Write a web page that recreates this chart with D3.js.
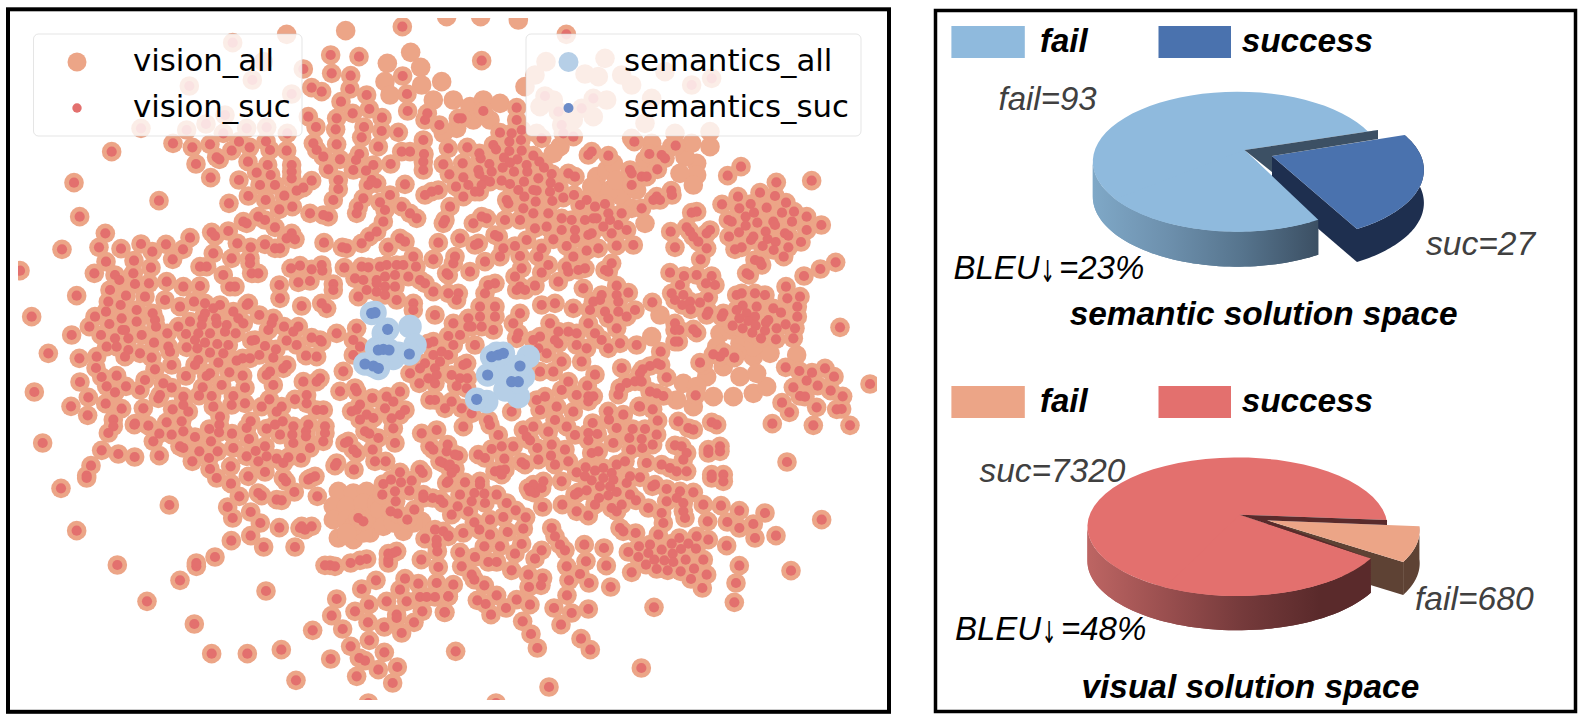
<!DOCTYPE html>
<html><head><meta charset="utf-8">
<script src="https://cdn.jsdelivr.net/npm/d3@7/dist/d3.min.js"></script>
<style>html,body{margin:0;padding:0;background:#fff}svg{display:block}</style></head><body>
<svg id="c" width="1579" height="726"></svg>
<script>
// t-SNE points, one list per quadrant of the plot (units: quadrant grid)
const visionSucNW=[[1207,80],[992,165],[1077,170],[995,220],[1052,227],[1208,228],[1050,267],[1221,282],[1100,285],[935,263],[965,275],[1023,305],[1108,327],[1223,333],[1058,340],[1146,353],[1010,355],[925,350],[948,381],[1007,388],[1092,381],[1145,393],[1195,397],[1270,345],[1280,360],[1317,377],[1085,412],[1268,420],[1010,433],[1135,440],[1205,455],[1230,455],[1272,460],[940,430],[950,450],[970,470],[1020,478],[1078,462],[1068,480],[1172,492],[1120,495],[1098,512],[1060,510],[985,508],[1270,490],[1272,510],[1330,495],[1340,440],[1345,525],[1015,540],[1015,567],[1115,540],[1105,555],[1130,550],[1215,553],[1000,600],[1295,575],[1265,593],[1170,585],[1140,607],[1090,595],[1075,620],[1070,640],[1155,630],[1205,620],[1305,625],[1230,640],[1250,655],[985,650],[970,645],[930,640],[1150,665],[1330,670],[1130,695],[1108,710],[1085,730],[1200,715],[1215,725],[1165,742],[1315,728],[972,728],[1027,742],[1040,745],[698,128],[757,240],[568,258],[875,282],[910,207],[423,385],[618,372],[560,390],[670,400],[740,385],[800,382],[862,400],[675,345],[519,430],[577,442],[630,433],[717,425],[749,442],[798,424],[810,450],[860,452],[695,452],[650,472],[658,478],[744,485],[588,492],[803,495],[875,495],[875,515],[875,535],[770,518],[812,525],[632,533],[717,540],[935,542],[780,555],[825,555],[910,563],[890,572],[745,588],[797,600],[853,587],[687,610],[838,628],[877,620],[335,455],[222,548],[477,602],[239,650],[730,665],[740,670],[775,650],[795,660],[825,682],[635,697],[645,708],[685,693],[875,700],[860,715],[885,718],[712,730],[752,742],[795,733],[825,745],[840,745],[640,760],[695,775],[750,775],[750,790],[600,800],[620,800],[755,820],[775,820],[670,825],[316,700],[297,742],[363,746],[423,732],[457,755],[498,733],[549,748],[570,713],[186,748],[318,785],[402,782],[518,778],[453,803],[283,820],[345,825],[358,840],[400,820],[405,852],[447,850],[500,845],[550,860],[600,858],[690,860],[705,860],[680,870],[715,870],[330,870],[378,887],[434,890],[230,887],[495,897],[325,905],[362,915],[410,930],[410,940],[540,920],[580,905],[618,912],[660,913],[750,905],[95,950],[285,950],[318,935],[365,955],[410,965],[455,940],[465,960],[540,955],[575,965],[610,930],[605,960],[650,965],[695,930],[710,950],[725,970],[775,945],[820,950],[830,960],[870,955],[268,980],[328,972],[367,990],[375,990],[465,985],[215,1005],[303,1005],[345,1015],[385,1015],[470,1010],[533,995],[570,1005],[625,995],[640,1000],[670,975],[705,1000],[800,990],[755,1020],[770,1020],[890,985],[905,1000],[935,1012],[965,1025],[145,1060],[238,1075],[320,1040],[350,1040],[385,1050],[430,1040],[505,1040],[510,1060],[555,1030],[590,1045],[630,1030],[660,1060],[700,1040],[800,1050],[840,1040],[880,1040],[920,1070],[290,1070],[375,1070],[455,1075],[545,1075],[615,1075],[680,1085],[755,1075],[960,1075],[873,805],[900,797],[935,808],[965,795],[967,812],[838,855],[845,870],[895,847],[930,843],[1000,852],[1000,870],[838,897],[905,918],[970,900],[975,915],[990,930],[965,925],[1033,803],[1085,800],[1105,802],[1140,800],[1160,795],[1190,795],[1210,795],[1248,800],[1240,770],[1300,778],[1340,820],[1065,835],[1090,840],[1130,840],[1155,830],[1185,825],[1225,830],[1260,840],[1275,850],[1100,870],[1130,875],[1155,860],[1185,860],[1130,850],[1075,890],[1155,885],[1190,900],[1240,910],[1300,875],[1345,880],[1010,1000],[1060,1020],[1070,985],[1240,930],[1305,945],[1305,965],[1260,990],[1300,1025],[1335,1040],[1340,970],[1080,1040],[1345,1060],[1290,1060],[1330,1080],[1060,1065],[60,812]];
const visionSucNE=[[364,103],[110,182],[740,255],[800,235],[300,288],[443,270],[445,298],[350,375],[340,335],[400,320],[300,400],[385,405],[40,355],[50,355],[115,333],[215,322],[215,362],[165,398],[200,400],[230,390],[190,425],[228,420],[145,440],[230,453],[200,470],[265,468],[280,490],[175,490],[220,490],[245,495],[245,515],[100,460],[15,445],[65,440],[105,475],[135,490],[50,490],[10,520],[100,515],[135,525],[300,515],[320,520],[370,525],[390,525],[180,548],[205,520],[235,545],[280,535],[315,548],[340,560],[55,530],[70,555],[30,560],[100,570],[120,570],[220,570],[270,570],[315,575],[385,585],[60,590],[415,600],[345,595],[180,605],[190,610],[240,625],[285,605],[320,605],[355,625],[385,625],[425,625],[450,620],[480,612],[510,622],[530,640],[490,640],[445,655],[20,630],[0,660],[85,670],[110,650],[125,655],[180,660],[265,640],[310,640],[350,655],[380,660],[420,660],[455,655],[495,660],[520,675],[545,690],[475,680],[225,660],[270,685],[305,680],[350,690],[390,690],[430,705],[440,700],[500,700],[45,715],[150,705],[160,710],[245,720],[325,718],[390,715],[460,745],[515,737],[565,735],[100,730],[90,735],[210,738],[175,745],[290,745],[365,738],[425,752],[385,770],[280,770],[165,770],[225,768],[30,770],[25,790],[120,785],[310,795],[365,800],[370,815],[420,805],[400,810],[230,805],[75,815],[290,818],[480,810],[500,790],[490,815],[10,825],[210,830],[150,850],[130,855],[340,845],[40,880],[35,900],[120,880],[225,860],[215,870],[240,870],[270,857],[415,865],[515,857],[550,878],[445,905],[465,900],[515,885],[470,885],[520,905],[290,915],[330,910],[385,925],[620,905],[435,930],[480,935],[520,935],[570,930],[105,920],[150,920],[105,950],[150,950],[225,940],[25,970],[70,955],[145,985],[210,975],[325,968],[380,965],[430,970],[490,955],[545,950],[15,985],[40,1000],[220,1000],[285,1010],[345,1000],[395,995],[450,1000],[515,985],[490,1045],[95,1035],[370,1050],[425,1045],[330,1040],[285,1050],[525,1030],[470,1020],[345,1070],[410,1085],[60,1085],[10,1070],[568,425],[613,462],[650,465],[660,475],[555,510],[560,520],[590,530],[605,530],[560,555],[637,508],[635,590],[625,600],[680,580],[680,565],[590,625],[435,458],[490,465],[380,525],[692,437],[850,527],[888,500],[994,547],[1100,542],[745,640],[730,640],[880,590],[945,580],[990,588],[830,612],[915,612],[883,627],[965,625],[1023,612],[1047,635],[1085,650],[1130,675],[1010,637],[850,660],[860,670],[900,650],[935,640],[985,668],[1040,665],[1085,690],[730,685],[750,705],[760,730],[795,690],[785,745],[678,695],[650,722],[690,745],[695,750],[855,710],[920,710],[960,695],[1020,700],[970,715],[1070,725],[990,725],[985,750],[1030,745],[950,740],[880,745],[865,755],[770,775],[760,780],[940,780],[950,790],[1015,770],[1172,787],[1127,807],[1078,827],[905,820],[915,825],[1020,860],[665,860],[690,850],[670,820],[715,825],[755,825],[800,827],[685,880],[710,860],[720,880],[775,850],[785,870],[825,860],[820,870],[870,885],[890,880],[930,875],[965,880],[1065,888],[1025,893],[685,905],[710,915],[735,925],[765,905],[875,930],[900,940],[935,925],[1060,922],[1005,937],[790,935],[830,945],[880,955],[910,965],[970,960],[1060,950],[1022,973],[1050,985],[1180,982],[690,975],[690,990],[745,990],[935,985],[895,985],[960,1000],[1045,1015],[995,1020],[700,1025],[645,1050],[575,1035],[800,1065],[820,1070],[1135,1090]];
const visionSucSW=[[103,87],[213,130],[263,157],[240,57],[265,103],[317,122],[288,15],[305,42],[350,38],[320,70],[345,88],[378,70],[392,45],[435,50],[395,100],[365,137],[340,170],[340,190],[325,210],[430,138],[465,150],[403,185],[445,188],[478,212],[500,178],[517,140],[545,175],[567,148],[550,205],[515,215],[460,235],[128,240],[305,262],[355,273],[404,282],[478,278],[273,308],[260,338],[260,345],[183,376],[540,250],[550,255],[585,222],[598,265],[633,235],[577,295],[627,285],[653,265],[630,318],[650,345],[692,310],[745,340],[693,362],[718,400],[683,432],[698,465],[752,447],[781,480],[752,518],[791,552],[694,533],[645,582],[589,610],[589,600],[540,652],[441,715],[583,783],[635,872],[742,872],[844,860],[352,606],[230,503],[508,426],[798,684],[888,952],[405,182],[475,95],[480,105],[488,60],[522,33],[558,42],[578,62],[605,73],[597,97],[635,100],[670,65],[640,130],[622,165],[655,165],[628,198],[658,185],[657,208],[696,168],[696,212],[700,255],[747,228],[752,175],[740,195],[550,100],[552,110],[687,30],[728,40],[735,75],[700,100],[718,122],[760,95],[760,148],[785,130],[790,158],[808,108],[800,197],[795,250],[767,264],[740,280],[775,295],[800,280],[795,327],[830,287],[850,300],[865,283],[903,285],[930,255],[840,215],[880,240],[877,215],[880,190],[877,165],[848,175],[825,185],[815,165],[840,135],[860,140],[880,165],[920,170],[925,185],[918,205],[918,220],[975,190],[975,210],[970,235],[610,40],[625,35],[655,0],[585,15],[800,35],[830,25],[815,65],[825,70],[850,10],[910,55],[885,110],[915,95],[925,95],[960,50],[945,130],[970,140],[990,140],[980,97],[1020,85],[1030,25],[1065,75],[1070,85],[1055,145],[1070,140],[1080,125],[1117,105],[1158,105],[1180,120],[1170,135],[1140,130],[1100,155],[1120,165],[1145,155],[1080,170],[1175,165],[1195,85],[1200,90],[1215,150],[1205,140],[1180,195],[1190,195],[1095,205],[1108,212],[1135,225],[1045,235],[1035,240],[1060,260],[1070,270],[1118,260],[1185,240],[1265,210],[1278,210],[1312,198],[1340,215],[1290,250],[1300,260],[1330,300],[1320,295],[1340,265],[1125,295],[1157,295],[1010,300],[1005,308],[1062,320],[850,345],[858,355],[933,345],[925,350],[945,340],[883,387],[952,400],[785,398],[775,390],[830,410],[845,412],[1345,310],[1340,360],[1200,328],[1173,350],[1150,363],[1203,358],[1235,353],[1185,385],[1228,383],[1147,395],[1187,415],[1270,395],[1270,405],[1260,320],[1268,330],[1172,445],[1193,452],[1243,440],[1222,470],[1298,405],[1320,410],[1330,420],[1275,527],[1305,500],[1330,505],[1345,520],[1310,530],[1310,545],[1312,565],[1264,590],[1315,612],[1075,465],[1090,475],[838,494],[885,552],[905,490],[915,500],[900,495],[935,490],[990,607],[975,607],[1005,610],[1052,600],[1080,592],[1100,588],[1165,572],[1180,570],[1165,590],[1190,565],[1165,600],[1128,652],[1085,678],[1215,647],[1255,662],[1200,680],[1310,660],[1260,702],[1280,702],[1305,702],[1345,700],[1220,715],[1160,715],[1107,725],[1010,708],[995,758],[1065,745],[1104,778],[1028,798],[938,802],[1190,755],[1190,765],[1267,745],[1333,748],[1242,778],[1153,792],[1205,810],[1108,832],[1052,850],[1078,885],[1095,893],[1153,868],[992,888],[1135,920],[1192,912],[1070,940],[1178,960],[1105,1020]];
const visionSucSE=[[32,865],[153,1020],[312,972],[589,915],[627,733],[868,718],[873,660],[883,608],[1038,623],[1130,470],[993,518],[1026,297],[1215,187],[1105,187],[1190,138],[1115,133],[1035,150],[1012,122],[982,182],[900,170],[1275,63],[1193,100],[1157,83],[1118,70],[1045,75],[1085,25],[1102,30],[1137,15],[1165,40],[1063,25],[1022,15],[1072,100],[1085,100],[752,97],[665,43],[655,97],[610,85],[630,90],[590,20],[530,15],[525,75],[520,95],[545,60],[570,55],[590,55],[450,35],[427,68],[400,58],[370,55],[430,100],[430,115],[445,100],[325,27],[285,25],[300,105],[272,110],[335,130],[382,145],[290,140],[280,140],[200,150],[375,190],[365,185],[330,170],[273,193],[135,180],[55,185],[45,60],[35,72],[65,75],[25,40],[50,45],[80,155],[50,135],[25,115],[0,135],[490,145],[535,155],[582,130],[625,140],[585,168],[638,173],[443,180],[430,210],[457,213],[492,170],[515,195],[563,198],[600,198],[635,215],[553,225],[590,228],[623,245],[505,240],[430,232],[558,260],[440,270],[460,265],[592,255],[700,175],[730,195],[745,200],[800,178],[815,185],[835,165],[690,247],[710,250],[825,250],[825,265],[790,260],[790,270],[725,270],[715,290],[605,300],[650,305],[675,315],[695,325],[725,325],[800,345],[835,335],[800,335],[835,355],[745,388],[705,385],[695,405],[665,378],[622,370],[630,365],[585,343],[545,360],[555,340],[540,295],[515,305],[500,330],[475,315],[450,323],[422,313],[395,328],[420,340],[440,352],[475,345],[505,350],[465,370],[495,370],[515,387],[490,397],[425,382],[400,388],[390,395],[462,405],[450,425],[555,395],[573,412],[530,425],[500,435],[515,445],[610,435],[665,415],[650,450],[715,420],[715,445],[720,465],[775,425],[828,428],[883,443],[960,450],[925,483],[847,477],[883,495],[930,525],[788,475],[845,548],[655,480],[640,515],[525,495],[535,505],[572,510],[790,530],[755,520],[703,525],[730,542],[680,542],[615,545],[582,550],[550,567],[610,570],[580,582],[650,560],[683,572],[708,558],[753,557],[628,590],[658,592],[685,597],[722,590],[775,590],[603,605],[635,618],[668,622],[707,625],[747,617],[785,635],[738,648],[772,675],[560,628],[352,425],[395,445],[430,458],[293,432],[350,355],[320,495],[330,520],[345,545],[360,562],[290,562],[270,587],[418,545],[477,555],[423,595],[484,608],[365,610],[405,633],[372,652],[432,660],[497,672],[366,697],[250,635],[293,645],[288,667],[252,672],[200,622],[45,568],[90,582],[130,597],[155,597],[50,610],[80,635],[88,650],[118,667],[25,665],[155,697],[97,712],[122,723],[215,710],[183,735],[138,755],[255,725],[327,735],[380,750],[430,738],[233,775],[348,785],[258,813],[277,855],[408,827],[436,860],[10,700],[0,748],[275,375],[250,375],[265,365],[290,375],[270,390],[295,355],[255,385],[165,322],[180,320],[150,325],[170,335],[178,287],[230,298],[240,305],[280,290],[318,278],[330,305],[370,295],[360,260],[320,245],[350,225],[277,255],[255,232],[235,205],[290,225],[320,210],[185,220],[205,250],[170,250],[140,258],[120,285],[100,275],[90,225],[40,278],[15,305],[30,318],[20,330],[10,355],[60,358],[105,355],[105,365],[45,395],[88,390],[118,392],[155,395],[80,415],[120,420],[185,420],[38,430],[70,445],[20,455],[135,470],[175,462],[212,442],[242,463],[88,478],[103,500],[135,515],[235,497],[188,507],[55,510],[10,518],[118,550],[165,550],[230,543],[210,572],[10,215],[8,245],[30,275],[50,130],[60,185],[150,170]];
const visionFailNW=[[860,103],[790,185],[1037,92],[1232,157],[1162,190],[1262,202],[1155,245],[1170,285],[1265,255],[1300,280],[1325,245],[1345,300],[1330,340],[1340,395],[1290,320],[1300,375]];
const visionFailNE=[[220,60],[107,50],[5,50],[30,300],[90,385],[120,295],[165,305],[35,395],[70,300],[10,390],[240,260],[270,225],[303,185],[420,222],[480,175],[530,225],[560,255],[510,280],[460,230],[620,295],[660,215],[350,450],[600,370],[690,400],[795,395],[795,440],[755,490],[755,550],[720,470],[700,520],[560,415],[520,440],[470,500],[440,545],[500,560],[530,590],[575,570],[600,670],[560,625],[620,430],[680,440],[740,430],[600,480],[650,525],[620,1010],[650,950],[640,1070],[820,1020],[860,1040],[900,1060],[950,1070],[1050,1060],[780,1070]];
const visionFailSW=[[1015,385],[1060,390],[1100,385],[1000,430],[1040,430],[1090,420],[1130,420],[1000,470],[1040,470],[1110,470],[1140,440],[1015,525],[1060,530],[1110,510],[1150,490],[1210,505],[1265,475],[1240,480],[1180,480],[1090,510],[1060,490],[1040,510]];
const visionFailSE=[[680,60],[720,60],[770,60],[700,100],[740,125],[830,30],[870,25],[900,40],[950,45],[950,100],[900,100],[850,100],[880,130],[940,150],[800,110],[830,70],[930,70],[970,60],[1000,80],[800,20],[860,60],[980,40]];
// closer readings of five dense crops; each replaces what the quadrant lists hold in its window
const cropA=[[145,70],[160,65],[205,48],[240,45],[220,75],[285,75],[275,20],[305,20],[340,30],[220,10],[265,20],[160,105],[185,95],[205,105],[135,130],[120,145],[180,125],[90,160],[118,190],[165,145],[170,165],[145,175],[165,190],[250,135],[260,130],[215,165],[240,175],[262,175],[230,198],[260,205],[60,215],[20,230],[40,245],[15,265],[75,270],[60,285],[35,295],[40,325],[150,240],[165,240],[215,245],[245,265],[195,265],[275,280],[250,320],[330,315],[325,300],[170,330],[125,340],[395,275],[470,240],[495,230],[480,270],[530,260],[580,275],[525,300],[480,155],[520,155],[565,185],[545,210],[590,225],[510,10],[480,50],[460,60],[400,10],[415,40],[410,55],[475,85],[535,35],[565,35],[590,40],[535,70],[590,75],[545,125],[500,100],[525,60],[430,330],[460,320],[505,335],[440,350],[560,320],[585,345],[355,345]];
const cropB=[[190,63],[115,85],[125,85],[58,105],[22,70],[15,90],[290,53],[290,90],[240,128],[275,130],[305,120],[10,150],[85,175],[142,172],[268,155],[303,150],[220,165],[228,178],[268,183],[305,182],[12,192],[178,190],[182,205],[252,203],[292,208],[270,218],[340,197],[358,215],[372,233],[10,215],[10,240],[70,223],[128,220],[208,222],[248,233],[320,225],[322,245],[282,245],[88,253],[175,240],[178,252],[215,245],[395,252],[130,262],[245,272],[270,282],[355,265],[312,275],[392,278],[195,270],[185,285],[210,275],[108,290],[145,285],[35,305],[15,315],[178,305],[165,305],[295,300],[340,300],[350,302],[417,292],[390,305],[130,320],[462,315],[313,320],[260,330],[265,340],[347,335],[430,323],[397,333],[500,330],[480,345],[555,342],[525,350],[55,300],[90,350],[310,355],[445,250],[465,260],[515,185],[505,195],[565,197],[365,145],[430,130],[460,140],[375,18],[415,65],[485,55],[425,105],[520,25]];
const cropBFail=[[100,30],[40,30],[150,50],[190,30],[240,40],[110,115],[160,90],[210,90],[420,170],[400,190],[530,260],[560,240],[540,300],[580,220],[570,300],[590,270],[515,290],[70,130],[360,50],[400,30],[460,90],[520,80],[560,30],[350,130],[440,130]];
const cropC=[[203,17],[349,37],[455,32],[34,62],[36,75],[0,90],[234,80],[300,68],[345,78],[186,103],[378,98],[95,128],[110,125],[238,115],[272,102],[320,113],[402,125],[366,128],[282,128],[440,140],[257,140],[205,150],[215,155],[340,155],[345,165],[292,158],[396,155],[484,165],[32,185],[80,172],[90,185],[100,200],[115,215],[150,180],[140,190],[257,167],[237,187],[317,185],[207,200],[280,200],[273,210],[323,207],[375,190],[385,197],[440,180],[347,216],[423,216],[45,232],[140,235],[225,238],[245,232],[308,228],[341,240],[385,232],[122,268],[285,270],[300,275],[371,260],[305,285],[260,310],[268,315],[30,308],[432,318],[481,297],[110,315],[155,318],[72,318],[378,350],[138,340],[165,345],[60,345]];
const cropCFail=[[110,15],[60,10],[100,45]];
const cropD=[[37,37],[95,10],[130,15],[105,30],[127,45],[150,35],[180,38],[152,58],[205,22],[290,15],[305,10],[345,10],[375,15],[442,25],[480,20],[205,65],[200,75],[250,70],[245,80],[308,47],[290,60],[320,70],[350,50],[400,55],[472,50],[423,68],[472,80],[345,80],[298,85],[325,93],[385,90],[378,98],[105,100],[105,120],[118,120],[160,118],[170,128],[278,107],[347,107],[308,115],[437,103],[465,115],[410,115],[375,122],[337,128],[363,145],[408,148],[460,145],[115,155],[105,155],[62,185],[220,193],[240,200],[252,188],[283,203],[180,218],[52,220],[62,225],[30,228],[8,238],[0,250],[437,232],[478,243],[516,248],[555,235],[582,260],[500,272],[80,262],[5,275],[460,292],[533,287],[572,302],[30,305],[50,310],[70,318],[480,318],[495,320],[167,316],[426,338],[530,352],[448,367],[38,358],[0,350],[600,112],[590,358]];
const cropDFail=[[60,75],[35,140],[240,130],[300,160],[250,230],[340,200],[390,190],[470,195],[130,280],[110,330],[160,350],[220,320],[280,320],[340,310],[380,290],[300,260],[350,250],[200,260],[270,120],[230,170],[340,170],[170,290],[290,190],[190,225]];
const cropE=[[45,20],[105,30],[20,60],[150,50],[192,35],[225,40],[270,45],[250,55],[355,40],[350,45],[515,48],[450,25],[575,40],[590,55],[68,70],[75,90],[78,110],[20,95],[145,110],[180,95],[225,70],[218,85],[215,105],[258,85],[260,100],[310,65],[325,85],[340,100],[388,75],[430,85],[425,100],[290,105],[415,120],[462,110],[505,110],[490,125],[35,135],[112,130],[168,132],[205,130],[240,130],[285,125],[317,130],[72,158],[195,150],[225,158],[262,162],[295,165],[375,150],[365,152],[405,168],[470,152],[500,165],[545,143],[575,155],[570,150],[115,170],[120,185],[170,172],[202,175],[438,178],[240,188],[280,190],[30,190],[65,203],[528,197],[560,200],[338,205],[320,212],[360,205],[388,195],[430,203],[205,210],[195,225],[265,218],[125,225],[470,225],[460,235],[75,238],[298,247],[420,245],[410,255],[240,250],[230,258],[168,258],[338,257],[45,270],[100,280],[430,285],[520,275],[570,265],[560,275],[275,285],[218,292],[125,293],[345,293],[30,300],[530,315],[90,315],[85,325],[160,320],[207,317],[245,318],[310,318],[418,328],[495,328],[345,340],[160,345],[128,358],[40,355],[250,350],[395,350],[305,345],[530,340],[270,380],[455,350],[560,360],[440,365],[175,365],[580,360]];
const semanticsSuc=[[95,70],[105,68],[143,118],[115,180],[130,178],[147,180],[208,192],[75,222],[100,228],[115,235],[455,200],[475,195],[490,190],[540,228],[443,255],[515,275],[535,275],[410,328]];
const semanticsFail=[[210,110],[130,130],[225,165],[175,190],[110,175],[160,205],[565,200],[550,260],[535,320],[495,300],[480,250],[500,240],[440,335],[470,190]];
const scatterLegendLeft=["vision_all","vision_suc"];
const scatterLegendRight=["semantics_all","semantics_suc"];
const pieSemantic=[{name:"success",value:27},{name:"fail",value:93}];
const pieVisual=[{name:"fail",value:680},{name:"success",value:7320}];

const C={vAll:"#eca587",vSuc:"#e3706e",sAll:"#b6cfe7",sSuc:"#6c8cc8"};
const svg=d3.select("#c");
const defs=svg.append("defs");
defs.append("clipPath").attr("id","plot").append("rect").attr("x",18).attr("y",18).attr("width",859).attr("height",682);
const sx=r=>d3.scaleLinear().domain([0,1350]).range(r);
const sy=r=>d3.scaleLinear().domain([0,1089]).range(r);
const Q={NW:[sx([0,450]),sy([0,363])],NE:[sx([445,895]),sy([0,363])],SW:[sx([0,450]),sy([363,726])],SE:[sx([445,895]),sy([363,726])]};
const semX=d3.scaleLinear().domain([0,630]).range([340,550]),semY=d3.scaleLinear().domain([0,375]).range([290,415]);
const place=(pts,[x,y])=>pts.map(d=>[x(d[0]),y(d[1])]);
const win=(x0,y0,w,h)=>({x0,y0,w,h,s:[d3.scaleLinear().domain([0,3*w]).range([x0,x0+w]),d3.scaleLinear().domain([0,3*h]).range([y0,y0+h])]});
const crops=[{...win(380,320,200,120),suc:cropA,fail:[]},{...win(420,90,200,120),suc:cropB,fail:cropBFail},{...win(660,170,170,120),suc:cropC,fail:cropCFail},{...win(640,290,200,130),suc:cropD,fail:cropDFail},{...win(130,290,200,130),suc:cropE,fail:[]}];
const outside=p=>!crops.some(c=>p[0]>=c.x0&&p[0]<=c.x0+c.w&&p[1]>=c.y0&&p[1]<=c.y0+c.h);
const suc=[...place(visionSucNW,Q.NW),...place(visionSucNE,Q.NE),...place(visionSucSW,Q.SW),...place(visionSucSE,Q.SE)].filter(outside).concat(...crops.map(c=>place(c.suc,c.s)));
const fail=[...place(visionFailNW,Q.NW),...place(visionFailNE,Q.NE),...place(visionFailSW,Q.SW),...place(visionFailSE,Q.SE)].filter(outside).concat(...crops.map(c=>place(c.fail,c.s)));
const semS=place(semanticsSuc,[semX,semY]),semF=place(semanticsFail,[semX,semY]);
const plot=svg.append("g").attr("clip-path","url(#plot)");
const dots=(data,r,c)=>plot.append("g").selectAll("circle").data(data).join("circle").attr("cx",d=>d[0]).attr("cy",d=>d[1]).attr("r",r).attr("fill",c);
dots([...fail,...suc],9.8,C.vAll);
dots(suc,5.1,C.vSuc);
dots([...semF,...semS],11.8,C.sAll);
dots(semS,5.6,C.sSuc);

function scatterLegend(x,w,mx,names,c1,r1,c2,r2,tx){
  const g=svg.append("g");
  g.append("rect").attr("x",x).attr("y",34).attr("width",w).attr("height",102).attr("rx",5).attr("fill","#fff").attr("fill-opacity",.8).attr("stroke","#ccc").attr("stroke-opacity",.5);
  g.append("circle").attr("cx",mx).attr("cy",62).attr("r",r1).attr("fill",c1);
  g.append("circle").attr("cx",mx).attr("cy",108).attr("r",r2).attr("fill",c2);
  names.forEach((n,i)=>g.append("text").attr("x",tx).attr("y",71+i*46).attr("font-family","DejaVu Sans").attr("font-size",30.8).attr("fill","#000").text(n));
}
scatterLegend(33.5,268.5,77,scatterLegendLeft,C.vAll,9.5,C.vSuc,4.7,133);
scatterLegend(526,335,568.5,scatterLegendRight,C.sAll,10,C.sSuc,5,624);

svg.append("rect").attr("x",8).attr("y",9.3).attr("width",881).attr("height",702.5).attr("fill","none").attr("stroke","#000").attr("stroke-width",4);
svg.append("rect").attr("x",935.5).attr("y",10.5).attr("width",640).attr("height",701).attr("fill","none").attr("stroke","#000").attr("stroke-width",3.5);

const deg=Math.PI/180;
function pie3d(o){
  const arcs=d3.pie().sort(null).value(d=>d.value).startAngle(o.start).endAngle(o.start+2*Math.PI)(o.data);
  const cut=arcs.find(a=>a.data.name===o.cutName);
  const E=(c,a,dy=0)=>[c.x+o.rx*Math.sin(a),c.y-o.ry*Math.cos(a)+dy];
  const sample=(c,a0,a1,dy=0)=>d3.range(0,61).map(i=>E(c,a0+(a1-a0)*i/60,dy));
  const line=d3.line();
  const g=svg.append("g");
  const id=o.id;
  const gr=defs.append("linearGradient").attr("id",id).attr("gradientUnits","userSpaceOnUse").attr("x1",o.c.x-o.rx).attr("x2",o.c.x+o.rx*.55).attr("y1",0).attr("y2",0);
  o.grad.forEach((c,i)=>gr.append("stop").attr("offset",i/(o.grad.length-1)).attr("stop-color",c));
  const a0=cut.startAngle,a1=cut.endAngle;
  const b0=a0+o.cutSpread[0]*deg,b1=a1+o.cutSpread[1]*deg;
  const wa=sample(o.c,a1,3*Math.PI/2);
  const wb=sample(o.c,3*Math.PI/2,a1,o.depth);
  g.append("path").attr("d",line([...wa,...wb])+"Z").attr("fill",`url(#${id})`);
  const topPts=sample(o.c,a1,a0+2*Math.PI);
  g.append("path").attr("d",line([o.apex,...topPts,o.tip])+"Z").attr("fill",o.main);
  const d2=o.cutDepth;
  g.append("path").attr("d",line([...sample(o.cutC,b0,b1),...sample(o.cutC,b1,b0,d2)])+"Z").attr("fill",o.cutSide);
  const lo=E(o.cutC,b1);
  g.append("path").attr("d",line([o.cutApex,lo,[lo[0],lo[1]+d2],[o.cutApex[0],o.cutApex[1]+d2]])+"Z").attr("fill",o.cutSide);
  g.append("path").attr("d",line([o.cutApex,...sample(o.cutC,b0,b1)])+"Z").attr("fill",o.cutColor);
  g.append("path").attr("d",line([...wa,...wb])+"Z").attr("fill",`url(#${id})`);
  g.append("path").attr("d",line([o.apex,...sample(o.c,a1,a1+1.6)])+"Z").attr("fill",o.main);
  const tail=o.notchToEdge?E(o.c,a1):[o.cutApex[0],o.cutApex[1]+o.depth*.46];
  g.append("path").attr("d",line([o.apex,o.tip,[o.tip[0],o.tip[1]+o.notch],o.cutApex,tail])+"Z").attr("fill",o.notchColor);
}
pie3d({id:"g1",data:pieSemantic,cutName:"success",start:65*deg,c:{x:1237.4,y:161.7},rx:144.6,ry:70,depth:35,apex:[1244.5,150],tip:[1378,130],
  cutC:{x:1279.3,y:170},cutApex:[1272,156],cutDepth:33,cutSpread:[-5,1.5],notch:9,main:"#8fbadd",cutColor:"#4a72ae",cutSide:"#1e2f4f",notchColor:"#3c5064",
  grad:["#7fa8c7","#6d90ad","#56748d","#3c5064"]});
pie3d({id:"g2",data:pieVisual,cutName:"fail",start:86.6*deg,c:{x:1237.4,y:526.7},rx:150,ry:69.3,depth:34.3,apex:[1239.5,514.7],tip:[1387,520],notchToEdge:true,
  cutC:{x:1269.7,y:530.3},cutApex:[1266.7,520.3],cutDepth:33,cutSpread:[0,0],notch:5,main:"#e3706e",cutColor:"#eca587",cutSide:"#5e4234",notchColor:"#5a2a2b",
  grad:["#bd6563","#9a4f4f","#753a3b","#5a2a2b"]});

function T(t,x,y,o={}){
  return svg.append("text").attr("x",x).attr("y",y).attr("font-family",o.family||"Liberation Sans").attr("font-style",o.upright?"normal":"italic")
   .attr("font-weight",o.bold?700:400).attr("font-size",o.size||33).attr("fill",o.fill||"#000").text(t);
}
function rect(x,y,w,h,c){svg.append("rect").attr("x",x).attr("y",y).attr("width",w).attr("height",h).attr("fill",c);}
rect(951.4,26,73.4,32,"#8fbadd");rect(1158.5,26,72.5,32,"#4a72ae");
T("fail",1040,52,{bold:1});T("success",1241.7,52,{bold:1,size:33.3});
rect(951.4,386,73.4,32,"#eca587");rect(1158.5,386,72.5,32,"#e3706e");
T("fail",1040,412,{bold:1});T("success",1241.7,412,{bold:1,size:33.3});
T("fail=93",998.5,110,{fill:"#404040"});T("suc=27",1426,255,{fill:"#404040",size:33.6});
T("suc=7320",979.6,482,{fill:"#404040",size:33.4});T("fail=680",1415,610,{fill:"#404040",size:33.6});
function bleu(pct,x,y,ax,ex){
  T("BLEU",x,y);
  T("↓",0,0,{family:"DejaVu Sans",upright:1,size:30}).attr("transform",`translate(${ax},${y+3}) scale(0.6,1)`);
  T("="+pct+"%",ex,y);
}
bleu(23,953.5,279,1040,1059);
bleu(48,955,640,1041.6,1061);
T("semantic solution space",1069.7,325,{bold:1,size:33.4});
T("visual solution space",1081.5,698,{bold:1,size:33.4});
</script></body></html>
